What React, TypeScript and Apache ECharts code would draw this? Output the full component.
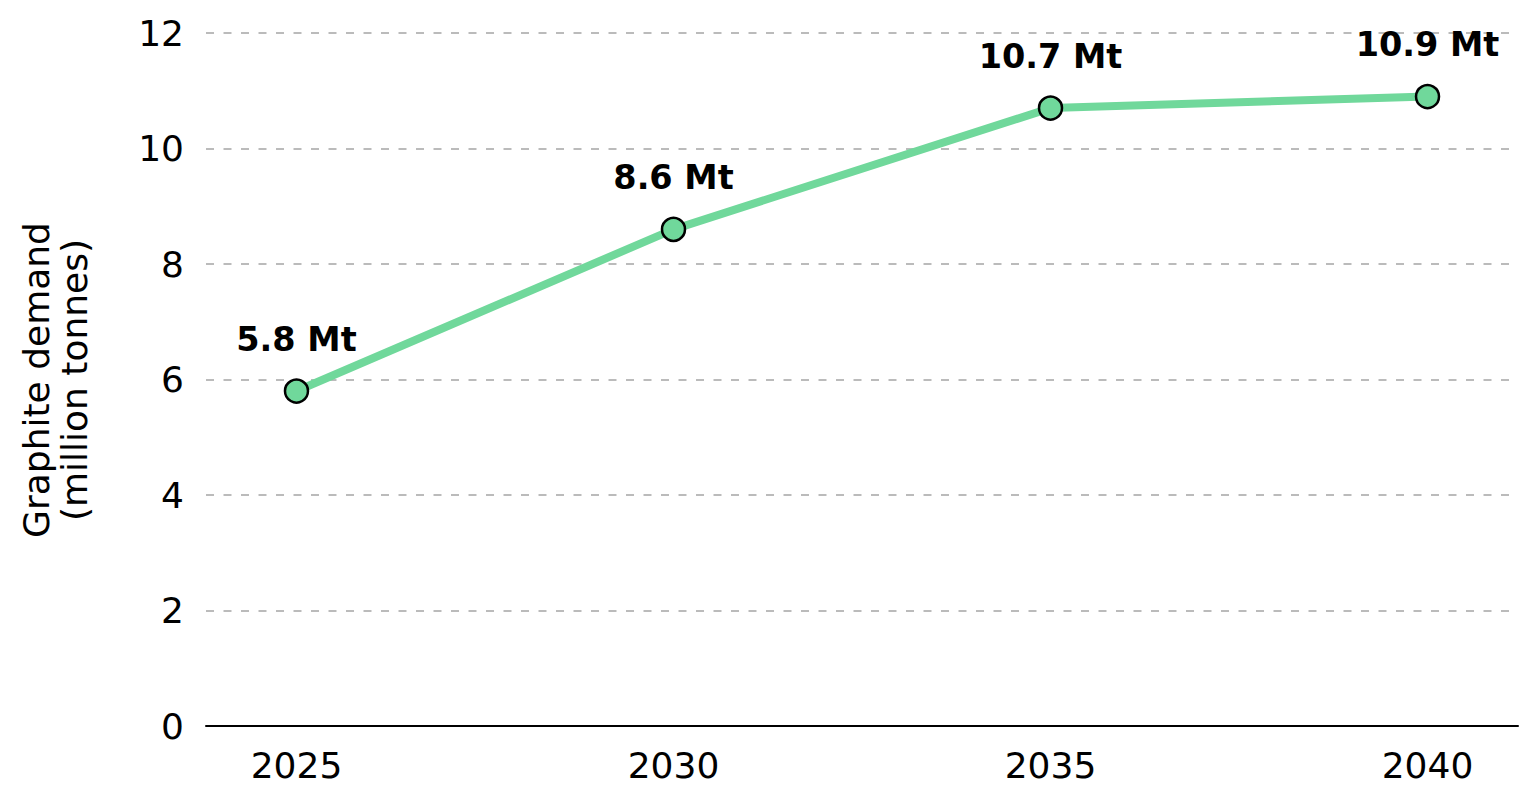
import React, { useEffect, useRef } from "react";
import * as echarts from "echarts";

const years = [2025, 2030, 2035, 2040];
const demand = [5.8, 8.6, 10.7, 10.9];
const xTicks = [2025, 2030, 2035, 2040];
const yAxisTitle = "Graphite demand\n(million tonnes)";

const FONT = "DejaVu Sans";
const GREEN = "#70d89b";

export default function App() {
  const ref = useRef<HTMLDivElement>(null);
  useEffect(() => {
    document.body.style.margin = "0";
    const chart = echarts.init(ref.current!, null, { renderer: "svg" });
    chart.setOption({
      animation: false,
      backgroundColor: "#ffffff",
      grid: { left: 206, right: 20, top: 33, bottom: 76 },
      xAxis: {
        type: "value",
        min: 2023.8,
        max: 2041.2,
        axisLine: { show: true, onZero: false, lineStyle: { color: "#000", width: 2 } },
        axisTick: { show: false },
        splitLine: { show: false },
        axisLabel: {
          customValues: xTicks,
          margin: 21,
          color: "#000",
          fontFamily: FONT,
          fontSize: 36,
          formatter: (v: number) => String(v),
        },
      },
      yAxis: {
        type: "value",
        min: 0,
        max: 12,
        interval: 2,
        axisLine: { show: false },
        axisTick: { show: false },
        axisLabel: { margin: 22, color: "#000", fontFamily: FONT, fontSize: 36 },
        splitLine: {
          show: true,
          lineStyle: { color: "#bbbbbb", width: 2, type: [8, 9.5] },
        },
      },
      graphic: [
        {
          type: "text",
          x: 55,
          y: 380,
          rotation: Math.PI / 2,
          style: {
            text: yAxisTitle,
            fontFamily: FONT,
            fontSize: 36,
            lineHeight: 38,
            fill: "#000",
            textAlign: "center",
            textVerticalAlign: "middle",
          },
        },
      ],
      series: [
        {
          type: "line",
          data: years.map((y, i) => [y, demand[i]]),
          lineStyle: { color: GREEN, width: 8 },
          symbol: "circle",
          symbolSize: 23,
          itemStyle: { color: GREEN, borderColor: "#000", borderWidth: 2.5 },
          label: {
            show: true,
            position: "top",
            distance: 22,
            color: "#000",
            fontFamily: FONT,
            fontWeight: "bold",
            fontSize: 33.5,
            formatter: (p: any) => `${p.value[1]} Mt`,
          },
          z: 3,
        },
      ],
    });
    return () => chart.dispose();
  }, []);
  return <div ref={ref} style={{ width: 1538, height: 802 }} />;
}
